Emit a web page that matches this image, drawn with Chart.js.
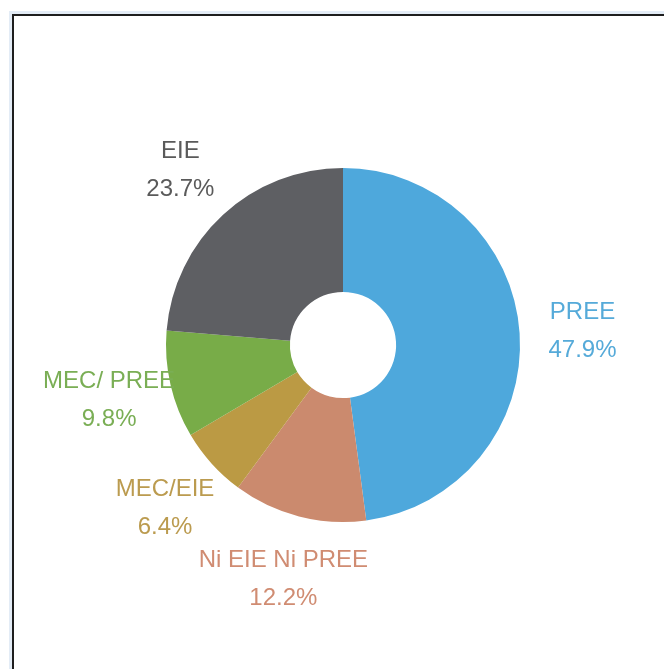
<!DOCTYPE html>
<html>
<head>
<meta charset="utf-8">
<script src="https://cdn.jsdelivr.net/npm/chart.js@4/dist/chart.umd.min.js"></script>
<style>
  html, body { margin: 0; padding: 0; background: #fff; overflow: hidden; }
  #frame {
    position: absolute; left: 12px; top: 14px; width: 700px; height: 700px;
    border: 2px solid #1e1e1e; box-shadow: 0 0 0 3px #e3ecf6;
  }
  #chart { position: absolute; left: 0; top: 0; }
</style>
</head>
<body>
<div id="frame"></div>
<canvas id="chart" width="664" height="669"></canvas>
<script>
// Data
const categories = ["PREE", "Ni EIE Ni PREE", "MEC/EIE", "MEC/ PREE", "EIE"];
const shares = [47.9, 12.2, 6.4, 9.8, 23.7];
const sliceColors = ["#4ea8dc", "#cb8a6e", "#bb9a44", "#78ac48", "#5e5f63"];
const labelColors = ["#55aad9", "#d08c72", "#bb9b4f", "#7aae55", "#5a5a5a"];

// Outside labels: name + percentage, placed along each slice's mid-angle
const outsideLabels = {
    id: "outsideLabels",
    afterDatasetsDraw(chart) {
        const ctx = chart.ctx;
        const meta = chart.getDatasetMeta(0);
        ctx.save();
        ctx.font = "24px 'Liberation Sans', Arial, sans-serif";
        ctx.textAlign = "center";
        ctx.textBaseline = "middle";
        meta.data.forEach((arc, i) => {
            const p = arc.getProps(["x", "y", "startAngle", "endAngle", "outerRadius"], true);
            const mid = (p.startAngle + p.endAngle) / 2;
            const r = p.outerRadius + 63;
            const cx = p.x + Math.cos(mid) * r;
            const cy = p.y + Math.sin(mid) * r + 2;
            ctx.fillStyle = labelColors[i];
            ctx.fillText(categories[i], cx, cy - 19);
            ctx.fillText(shares[i].toFixed(1) + "%", cx, cy + 19);
        });
        ctx.restore();
    }
};

new Chart(document.getElementById("chart"), {
    type: "doughnut",
    data: {
        labels: categories,
        datasets: [{
            data: shares,
            backgroundColor: sliceColors,
            borderWidth: 0
        }]
    },
    options: {
        responsive: false,
        animation: false,
        cutout: "30%",
        layout: { padding: { left: 166, right: 144, top: 168, bottom: 147 } },
        plugins: {
            legend: { display: false },
            tooltip: { enabled: false }
        }
    },
    plugins: [outsideLabels]
});
</script>
</body>
</html>
